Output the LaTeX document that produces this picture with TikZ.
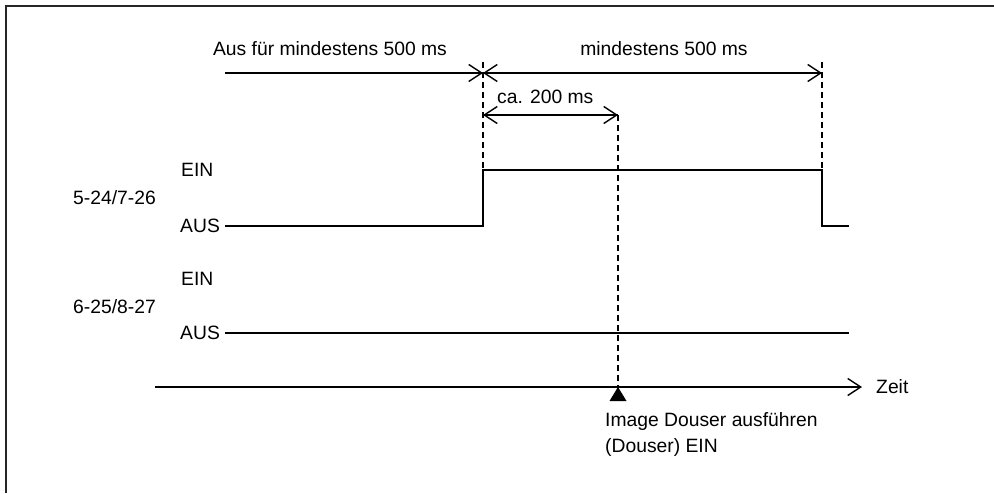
\documentclass[tikz,border=0pt]{standalone}
\usepackage{fontspec}
\setmainfont{Liberation Sans}
\usetikzlibrary{arrows.meta}
\begin{document}
\begin{tikzpicture}[x=1pt,y=-1pt,
  lbl/.style={inner sep=0pt,font=\fontsize{19.3}{22}\selectfont},
  sig/.style={line width=1.8pt},
  guide/.style={line width=1.4pt,dash pattern=on 6pt off 4pt},
  tip/.style={-{Straight Barb[length=13pt,width=17pt,line width=1.4pt]}},
  dim/.style={line width=1.4pt}]
\useasboundingbox (0,0) rectangle (994,493);
\draw[line width=2.2pt,black!85] (6,493) -- (6,6) -- (994,6);
% time markers
\coordinate (t0) at (483,73);
\coordinate (t1) at (822,73);
\coordinate (a0) at (225,73);
\coordinate (b0) at (483,115);
\coordinate (b1) at (618,115);
% labels top
\node[lbl] (aus500) at (330,49) {Aus für mindestens 500 ms};
\node[lbl] (min500) at (664,49) {mindestens 500 ms};
\node[lbl,anchor=west] (ca200) at (497,97) {ca. 200 ms};
% dimension arrows
\draw[dim,tip] (a0) -- (t0);
\draw[dim,tip] (t0) -- (t1);
\draw[dim,tip] (t1) -- (t0);
\draw[dim,tip] (b0) -- (b1);
\draw[dim,tip] (b1) -- (b0);
% guides
\draw[guide] (483,62) -- (483,170);
\draw[guide] (822,62) -- (822,170);
\draw[guide] (618,115) -- (618,390);
% signal 1
\node[lbl,anchor=west] (ein1) at (181,170) {EIN};
\node[lbl,anchor=west] (p1) at (73,198) {5-24/7-26};
\node[lbl,anchor=west] (aus1) at (180,226) {AUS};
\draw[sig] (225,226) -- (483,226) -- (483,170) -- (822,170) -- (822,226) -- (849,226);
% signal 2
\node[lbl,anchor=west] (ein2) at (181,279) {EIN};
\node[lbl,anchor=west] (p2) at (73,307) {6-25/8-27};
\node[lbl,anchor=west] (aus2) at (180,333) {AUS};
\draw[sig] (225,333) -- (849,333);
% time axis
\coordinate (ax0) at (155,387);
\coordinate (ax1) at (862,387);
\draw[dim,tip] (ax0) -- (ax1);
\node[lbl,anchor=west] (zeit) at (876,387) {Zeit};
\fill (618,387) -- (609.5,401) -- (626.5,401) -- cycle;
\node[lbl,anchor=west] (img1) at (605,422) {Image Douser ausführen};
\node[lbl,anchor=west] (img2) at (605,447) {(Douser) EIN};
\end{tikzpicture}
\end{document}
